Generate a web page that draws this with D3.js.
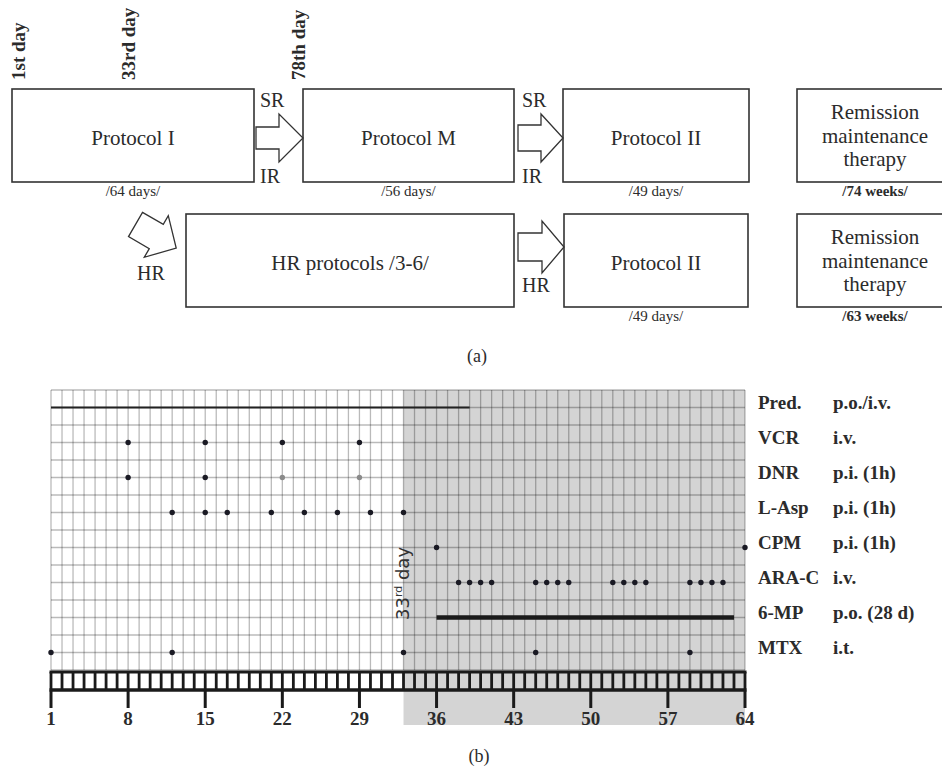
<!DOCTYPE html>
<html><head><meta charset="utf-8">
<script src="https://cdn.jsdelivr.net/npm/d3@7"></script>
<style>body{margin:0;background:#fff}svg{display:block}</style>
</head><body><svg id="c" width="942" height="771"></svg>
<script>
// ---------- data ----------
const drugs = ["Pred.","VCR","DNR","L-Asp","CPM","ARA-C","6-MP","MTX"];
const routes = ["p.o./i.v.","i.v.","p.i. (1h)","p.i. (1h)","p.i. (1h)","i.v.","p.o. (28 d)","i.t."];
const dayTicks = [1,8,15,22,29,36,43,50,57,64];
const vcrDays = [8,15,22,29];
const dnrDays = [8,15];
const dnrGrayDays = [22,29];
const lAspDays = [12,15,17,21,24,27,30,33];
const cpmDays = [36,64];
const aracDays = [38,39,40,41,45,46,47,48,52,53,54,55,59,60,61,62];
const mtxDays = [1,12,33,45,59];
const predSpan = [1,39];
const mpSpan = [36,63];
const shadedSpan = [33,64];
const milestoneLabels = ["1st day","33rd day","78th day"];
const row1Boxes = ["Protocol I","Protocol M","Protocol II",["Remission","maintenance","therapy"]];
const row1Durations = ["/64 days/","/56 days/","/49 days/","/74 weeks/"];
const row2Boxes = ["HR protocols /3-6/","Protocol II",["Remission","maintenance","therapy"]];
const row2Durations = [null,"/49 days/","/63 weeks/"];
const riskLabels = ["SR","IR","HR"];

// ---------- setup ----------
const svg = d3.select("#c");
const serif = "'Liberation Serif','Times New Roman',serif";
const ink = "#2b2b2b";
svg.append("rect").attr("width",942).attr("height",771).attr("fill","#fff");

// ---------- panel (a) ----------
const A = svg.append("g").attr("font-family", serif).attr("fill", ink);

const r1x = [[12,254],[303,514],[563,749],[797,953]];
const r1y = [89,182];
const r2x = [[186,514],[564,748],[797,953]];
const r2y = [214,307];

function drawRow(labels, durs, xs, ys){
  labels.forEach((lab,i)=>{
    const [x0,x1] = xs[i];
    A.append("rect").attr("x",x0).attr("y",ys[0]).attr("width",x1-x0).attr("height",ys[1]-ys[0])
      .attr("fill","#fff").attr("stroke","#333").attr("stroke-width",1.6);
    const cx = x1 > 900 ? 875 : (x0+x1)/2;
    const cy = (ys[0]+ys[1])/2;
    if (Array.isArray(lab)) {
      lab.forEach((t,j)=>{
        A.append("text").attr("x",cx).attr("y",cy+7+(j-1)*23.5).attr("text-anchor","middle")
          .attr("font-size",21).text(t);
      });
    } else {
      A.append("text").attr("x",cx).attr("y",cy+9).attr("text-anchor","middle")
        .attr("font-size",21).text(lab);
    }
    if (durs[i]) {
      const bold = durs[i].includes("weeks");
      A.append("text").attr("x",cx).attr("y",ys[1]+14).attr("text-anchor","middle")
        .attr("font-size",15).attr("font-weight",bold?"bold":"normal").text(durs[i]);
    }
  });
}
drawRow(row1Boxes,row1Durations,r1x,r1y);
drawRow(row2Boxes,row2Durations,r2x,r2y);

// milestones (rotated)
const msX = [25,135,305];
milestoneLabels.forEach((t,i)=>{
  A.append("text").attr("transform",`translate(${msX[i]},80) rotate(-90)`)
    .attr("font-size",19).attr("font-weight","bold").text(t);
});

// arrows
function arrow(tx,ty,rot,L,H,s,h){
  const pts = [[0,-s],[L,-s],[L,-h],[L+H,0],[L,h],[L,s],[0,s]];
  A.append("polygon").attr("points",pts.map(p=>p.join(",")).join(" "))
    .attr("transform",`translate(${tx},${ty}) rotate(${rot})`)
    .attr("fill","#fff").attr("stroke","#333").attr("stroke-width",1.3).attr("stroke-linejoin","miter");
}
arrow(256,138,0,23,24,11,24);
arrow(518,138,0,23,22,13,24);
arrow(518,247,0,24,22,14,26);
arrow(135.5,224.5,30,24,23,14,24);

// risk labels
[[260,107,0],[260,183,1],[522,107,0],[522,183,1]].forEach(d=>{
  A.append("text").attr("x",d[0]).attr("y",d[1]).attr("font-size",20).text(riskLabels[d[2]]);
});
A.append("text").attr("x",151).attr("y",280).attr("text-anchor","middle").attr("font-size",20).text(riskLabels[2]);
A.append("text").attr("x",522).attr("y",292).attr("font-size",20).text(riskLabels[2]);

A.append("text").attr("x",477).attr("y",362).attr("text-anchor","middle").attr("font-size",18).text("(a)");

// ---------- panel (b) ----------
const x = d3.scaleLinear().domain([1,64]).range([51,745]);
const y = d3.scalePoint().domain(drugs).range([407.5,652.5]);
const half = y.step()/2;
const gTop = y(drugs[0]) - half, gBot = y(drugs[drugs.length-1]) + half;
const B = svg.append("g");

// shaded region
B.append("rect").attr("x",x(shadedSpan[0])).attr("y",gTop)
  .attr("width",x(shadedSpan[1])-x(shadedSpan[0])).attr("height",725-gTop)
  .attr("fill","#d4d4d4");

// grid
const days = d3.range(1,65);
B.append("g").selectAll("line").data(days).join("line")
  .attr("x1",d=>x(d)).attr("x2",d=>x(d)).attr("y1",gTop).attr("y2",gBot)
  .attr("stroke","#000").attr("stroke-opacity",0.27).attr("stroke-width",1.3);
const hLines = d3.range(gTop, gBot+0.1, half);
B.append("g").selectAll("line").data(hLines).join("line")
  .attr("x1",x(1)).attr("x2",x(64)).attr("y1",d=>d).attr("y2",d=>d)
  .attr("stroke","#000").attr("stroke-opacity",0.27).attr("stroke-width",1.3);

// lines
B.append("line").attr("x1",x(predSpan[0])).attr("x2",x(predSpan[1]))
  .attr("y1",y("Pred.")).attr("y2",y("Pred.")).attr("stroke","#222").attr("stroke-width",2);
B.append("line").attr("x1",x(mpSpan[0])).attr("x2",x(mpSpan[1]))
  .attr("y1",y("6-MP")).attr("y2",y("6-MP")).attr("stroke","#1a1a1a").attr("stroke-width",4.5);

// dots
const dots = [];
vcrDays.forEach(d=>dots.push({drug:"VCR",day:d,c:"#1a1a24"}));
dnrDays.forEach(d=>dots.push({drug:"DNR",day:d,c:"#1a1a24"}));
dnrGrayDays.forEach(d=>dots.push({drug:"DNR",day:d,c:"#8a8a8a"}));
lAspDays.forEach(d=>dots.push({drug:"L-Asp",day:d,c:"#1a1a24"}));
cpmDays.forEach(d=>dots.push({drug:"CPM",day:d,c:"#1a1a24"}));
aracDays.forEach(d=>dots.push({drug:"ARA-C",day:d,c:"#1a1a24"}));
mtxDays.forEach(d=>dots.push({drug:"MTX",day:d,c:"#1a1a24"}));
B.append("g").selectAll("circle").data(dots).join("circle")
  .attr("cx",d=>x(d.day)).attr("cy",d=>y(d.drug)).attr("r",2.7).attr("fill",d=>d.c);

// 33rd day label
const t33 = B.append("text").attr("transform","translate(409,620) rotate(-90)")
  .attr("font-family","'DejaVu Sans',sans-serif").attr("font-size",18).attr("fill","#333");
t33.append("tspan").text("33");
t33.append("tspan").attr("font-size",11).attr("dy",-7).text("rd");
t33.append("tspan").attr("dy",7).text(" day");

// axis
const axTop = 672, axMid = 690, axBot = 708;
B.append("line").attr("x1",x(1)-1.5).attr("x2",x(64)+1.5).attr("y1",axTop).attr("y2",axTop)
  .attr("stroke","#1a1a1a").attr("stroke-width",3);
B.append("g").selectAll("line").data(days).join("line")
  .attr("x1",d=>x(d)).attr("x2",d=>x(d)).attr("y1",axTop).attr("y2",axMid)
  .attr("stroke","#1a1a1a").attr("stroke-width",2.8);
B.append("line").attr("x1",x(1)-1.5).attr("x2",x(64)+1.5).attr("y1",axMid).attr("y2",axMid)
  .attr("stroke","#1a1a1a").attr("stroke-width",3.5);
B.append("g").selectAll("line").data(dayTicks).join("line")
  .attr("x1",d=>x(d)).attr("x2",d=>x(d)).attr("y1",axMid).attr("y2",axBot)
  .attr("stroke","#1a1a1a").attr("stroke-width",3);
B.append("g").selectAll("text").data(dayTicks).join("text")
  .attr("x",d=>x(d)).attr("y",725).attr("text-anchor","middle")
  .attr("font-family",serif).attr("font-weight","bold").attr("font-size",19).attr("fill",ink)
  .text(d=>d);

// drug labels
B.append("g").selectAll("text").data(drugs).join("text")
  .attr("x",758).attr("y",d=>y(d)+1).attr("font-family",serif).attr("font-weight","bold")
  .attr("font-size",19).attr("fill",ink).text(d=>d);
B.append("g").selectAll("text").data(routes).join("text")
  .attr("x",833).attr("y",(d,i)=>y(drugs[i])+1).attr("font-family",serif).attr("font-weight","bold")
  .attr("font-size",19).attr("fill",ink).text(d=>d);

B.append("text").attr("x",479).attr("y",762).attr("text-anchor","middle")
  .attr("font-family",serif).attr("font-size",18).attr("fill",ink).text("(b)");
</script></body></html>
